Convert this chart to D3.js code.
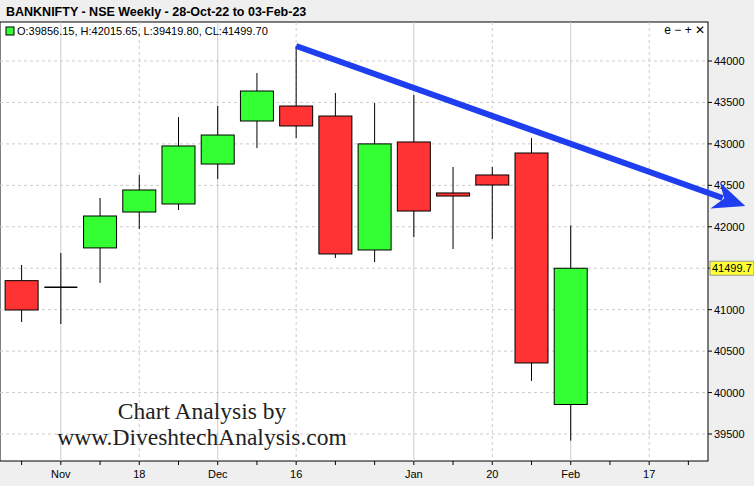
<!DOCTYPE html><html><head><meta charset="utf-8"><script src="https://cdn.jsdelivr.net/npm/d3@7"></script>
<style>body{margin:0;background:#f0f0f0}</style></head><body><svg id="c" width="754" height="486"></svg><script>
const weeks=["28-Oct","04-Nov","11-Nov","18-Nov","25-Nov","02-Dec","09-Dec","16-Dec","23-Dec","30-Dec","06-Jan","13-Jan","20-Jan","27-Jan","03-Feb"];
const open=[41350,41260,41745,42178,42275,42757,43276,43457,43336,41720,43023,42408,42625,42890,39856.15];
const high=[41540,41684,42347,42625,43324,43457,43855,44181,43614,43493,43590,42721,42721,43071,42015.65];
const low=[40851,40827,41322,41973,42202,42576,42950,43071,41624,41575,41877,41732,41853,40140,39419.80];
const close=[40996,41270,42130,42444,42975,43107,43638,43216,41672,43000,42190,42371,42504,40357,41499.70];
const yTicks=[39500,40000,40500,41000,41500,42000,42500,43000,43500,44000];
const xLabels=[{i:1,t:"Nov"},{i:3,t:"18"},{i:5,t:"Dec"},{i:7,t:"16"},{i:10,t:"Jan"},{i:12,t:"20"},{i:14,t:"Feb"},{i:16,t:"17"}];
const monthStarts=[1,5,10,14];
const svg=d3.select("#c");
const L=0,R=708,T=22,B=461;
const x=d3.scaleLinear().domain([-0.5,17.5]).range([L+2,R]);
const y=d3.scaleLinear().domain([39500,44000]).range([434,61]);
svg.append("rect").attr("x",0).attr("y",0).attr("width",754).attr("height",486).attr("fill","#efefef");
svg.append("rect").attr("x",L).attr("y",T).attr("width",R-L).attr("height",B-T).attr("fill","#fff").attr("stroke","#000");
yTicks.forEach(v=>svg.append("line").attr("x1",L).attr("x2",R).attr("y1",y(v)).attr("y2",y(v)).attr("stroke","#ccc").attr("stroke-dasharray","3,3"));
xLabels.forEach(d=>{const solid=monthStarts.includes(d.i);svg.append("line").attr("x1",x(d.i)).attr("x2",x(d.i)).attr("y1",T).attr("y2",B).attr("stroke","#ccc").attr("stroke-dasharray",solid?null:"3,3");});
d3.range(0,18).forEach(i=>svg.append("line").attr("x1",x(i)).attr("x2",x(i)).attr("y1",B).attr("y2",B+4).attr("stroke","#000"));
xLabels.forEach(d=>svg.append("text").attr("x",x(d.i)).attr("y",B+17).attr("text-anchor","middle").attr("font-family","Arial").attr("font-size",11).text(d.t));
yTicks.forEach(v=>{svg.append("line").attr("x1",R).attr("x2",R+4).attr("y1",y(v)).attr("y2",y(v)).attr("stroke","#000");
 if(v!==41500)svg.append("text").attr("x",R+6).attr("y",y(v)+4).attr("font-family","Arial").attr("font-size",11).text(v);});
const cy=y(close[14]);
svg.append("rect").attr("x",R+2).attr("y",cy-7).attr("width",44).attr("height",14).attr("fill","#ffff33").attr("stroke","#999");
svg.append("text").attr("x",R+4).attr("y",cy+4).attr("font-family","Arial").attr("font-size",11).text("41499.7");
const w=33;
weeks.forEach((d,i)=>{const up=close[i]>=open[i];const cx=x(i);
 svg.append("line").attr("x1",cx).attr("x2",cx).attr("y1",y(high[i])).attr("y2",y(low[i])).attr("stroke","#000");
 const top=y(Math.max(open[i],close[i])),bot=y(Math.min(open[i],close[i]));
 if(bot-top<2){svg.append("line").attr("x1",cx-w/2).attr("x2",cx+w/2).attr("y1",top).attr("y2",top).attr("stroke","#000").attr("stroke-width",1.5);}
 else svg.append("rect").attr("x",cx-w/2).attr("y",top).attr("width",w).attr("height",bot-top).attr("fill",up?"#33ff33":"#ff3333").attr("stroke","#000");
});
const x1=x(7),y1=y(44181),x2=x(18.45),y2=y(42250);
const ang=Math.atan2(y2-y1,x2-x1);
const hl=32,hw=14;
const bx=x2-hl*Math.cos(ang),by=y2-hl*Math.sin(ang);
svg.append("line").attr("x1",x1).attr("y1",y1).attr("x2",bx+8*Math.cos(ang)).attr("y2",by+8*Math.sin(ang)).attr("stroke","#1e3ef0").attr("stroke-width",6);
const px=-Math.sin(ang),py=Math.cos(ang);
svg.append("path").attr("d",`M${x2},${y2}L${bx+px*hw},${by+py*hw}L${bx+(x2-bx)*0.3},${by+(y2-by)*0.3}L${bx-px*hw},${by-py*hw}Z`).attr("fill","#1e3ef0");
svg.append("text").attr("x",6).attr("y",16).attr("font-family","Liberation Sans, Arial").attr("font-weight","bold").attr("font-size",12.5).text("BANKNIFTY - NSE Weekly - 28-Oct-22 to 03-Feb-23");
svg.append("rect").attr("x",6).attr("y",27).attr("width",8).attr("height",8).attr("fill","#33ff33").attr("stroke","#000");
svg.append("text").attr("x",17).attr("y",35).attr("font-family","Arial").attr("font-size",11).text("O:39856.15, H:42015.65, L:39419.80, CL:41499.70");
svg.append("text").attr("x",705).attr("y",34).attr("text-anchor","end").attr("font-family","Arial").attr("font-size",12).text("e − + ✕");
const wm=svg.append("g").attr("font-family","Liberation Serif, DejaVu Serif").attr("font-size",23.5).attr("text-anchor","middle").attr("fill","#222");
wm.append("text").attr("x",202).attr("y",419).text("Chart Analysis by");
wm.append("text").attr("x",202).attr("y",445).text("www.DiveshtechAnalysis.com");
</script></body></html>
